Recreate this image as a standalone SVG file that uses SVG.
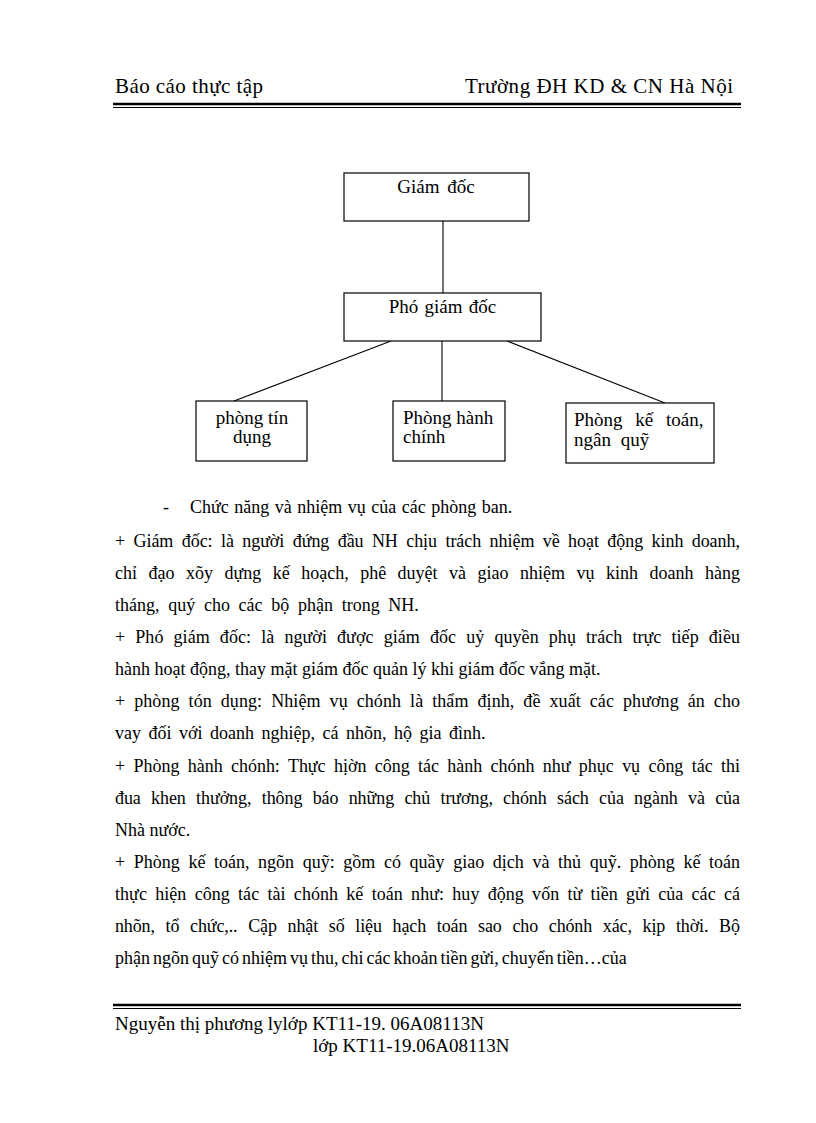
<svg xmlns="http://www.w3.org/2000/svg" width="816" height="1123" viewBox="0 0 816 1123">
<style>
text{font-family:"Liberation Serif","Times New Roman",serif;fill:#000}
.hd{font-size:21px}
.bx{font-size:19px}
.bd{font-size:18px}
.ft{font-size:19px}
.box{fill:#fff;stroke:#000;stroke-width:1.2}
.cn{stroke:#000;stroke-width:1.1;fill:none}
</style>
<rect width="816" height="1123" fill="#fff"/>
<g id="header">
<text class="hd" x="115" y="93" textLength="148" lengthAdjust="spacing">Báo cáo thực tập</text>
<text class="hd" x="465" y="93" textLength="268" lengthAdjust="spacing">Trường ĐH KD &amp; CN Hà Nội</text>
<line x1="113" y1="104" x2="741" y2="104" stroke="#000" stroke-width="2.5"/>
<line x1="113" y1="107.5" x2="741" y2="107.5" stroke="#000" stroke-width="1"/>
</g>
<g id="connectors">
<line class="cn" x1="443" y1="221" x2="443" y2="293"/>
<line class="cn" x1="391" y1="341" x2="234" y2="401"/>
<line class="cn" x1="442" y1="341" x2="442" y2="401"/>
<line class="cn" x1="507" y1="341" x2="665" y2="403"/>
</g>
<g id="giam-doc">
<rect class="box" x="344" y="173" width="185" height="48"/>
<text class="bx" x="436" y="193" text-anchor="middle" word-spacing="3">Giám đốc</text>
</g>
<g id="pho-giam-doc">
<rect class="box" x="344" y="293" width="197" height="48"/>
<text class="bx" x="442.5" y="313" text-anchor="middle" word-spacing="1.5">Phó giám đốc</text>
</g>
<g id="phong-tin-dung">
<rect class="box" x="196" y="401" width="111" height="60"/>
<text class="bx" x="252" y="424" text-anchor="middle">phòng tín</text>
<text class="bx" x="252" y="443" text-anchor="middle">dụng</text>
</g>
<g id="phong-hanh-chinh">
<rect class="box" x="393" y="401" width="112" height="60"/>
<text class="bx" x="403" y="424">Phòng hành</text>
<text class="bx" x="403" y="443">chính</text>
</g>
<g id="phong-ke-toan">
<rect class="box" x="566" y="403" width="148" height="60"/>
<text class="bx" x="574" y="426" word-spacing="8">Phòng kế toán,</text>
<text class="bx" x="574" y="446" word-spacing="5">ngân quỹ</text>
</g>
<g id="body">
<text class="bd" x="163" y="513">-</text>
<text class="bd" x="190" y="513" word-spacing="1">Chức năng và nhiệm vụ của các phòng ban.</text>
<text class="bd" x="115" y="547" word-spacing="3.9" textLength="625" lengthAdjust="spacing">+ Giám đốc: là người đứng đầu NH chịu trách nhiệm về hoạt động kinh doanh,</text>
<text class="bd" x="115" y="579" word-spacing="7" textLength="625" lengthAdjust="spacing">chỉ đạo xõy dựng kế hoạch, phê duyệt và giao nhiệm vụ kinh doanh hàng</text>
<text class="bd" x="115" y="611" word-spacing="4.2">tháng, quý cho các bộ phận trong NH.</text>
<text class="bd" x="115" y="643" word-spacing="5.5" textLength="625" lengthAdjust="spacing">+ Phó giám đốc: là người được giám đốc uỷ quyền phụ trách trực tiếp điều</text>
<text class="bd" x="115" y="675">hành hoạt động, thay mặt giám đốc quản lý khi giám đốc vắng mặt.</text>
<text class="bd" x="115" y="707" word-spacing="4.3" textLength="625" lengthAdjust="spacing">+ phòng tón dụng: Nhiệm vụ chónh là thẩm định, đề xuất các phương án cho</text>
<text class="bd" x="115" y="739" word-spacing="3">vay đối với doanh nghiệp, cá nhõn, hộ gia đình.</text>
<text class="bd" x="115" y="772" word-spacing="3.9" textLength="625" lengthAdjust="spacing">+ Phòng hành chónh: Thực hịờn công tác hành chónh như phục vụ công tác thi</text>
<text class="bd" x="115" y="804" word-spacing="5.8" textLength="625" lengthAdjust="spacing">đua khen thưởng, thông báo những chủ trương, chónh sách của ngành và của</text>
<text class="bd" x="115" y="836">Nhà nước.</text>
<text class="bd" x="115" y="868" word-spacing="4.1" textLength="625" lengthAdjust="spacing">+ Phòng kế toán, ngõn quỹ: gồm có quầy giao dịch và thủ quỹ. phòng kế toán</text>
<text class="bd" x="115" y="900" word-spacing="3.7" textLength="625" lengthAdjust="spacing">thực hiện công tác tài chónh kế toán như: huy động vốn từ tiền gửi của các cá</text>
<text class="bd" x="115" y="932" word-spacing="6.4" textLength="625" lengthAdjust="spacing">nhõn, tổ chức,.. Cập nhật số liệu hạch toán sao cho chónh xác, kịp thời. Bộ</text>
<text class="bd" x="115" y="964" word-spacing="-1.5">phận ngõn quỹ có nhiệm vụ thu, chi các khoản tiền gửi, chuyển tiền…của</text>
</g>
<g id="footer">
<line x1="113" y1="1005" x2="741" y2="1005" stroke="#000" stroke-width="2.5"/>
<line x1="113" y1="1008.5" x2="741" y2="1008.5" stroke="#000" stroke-width="1"/>
<text class="ft" x="115" y="1030">Nguyễn thị phương lylớp KT11-19. 06A08113N</text>
<text class="ft" x="313" y="1052">lớp KT11-19.06A08113N</text>
</g>
</svg>
